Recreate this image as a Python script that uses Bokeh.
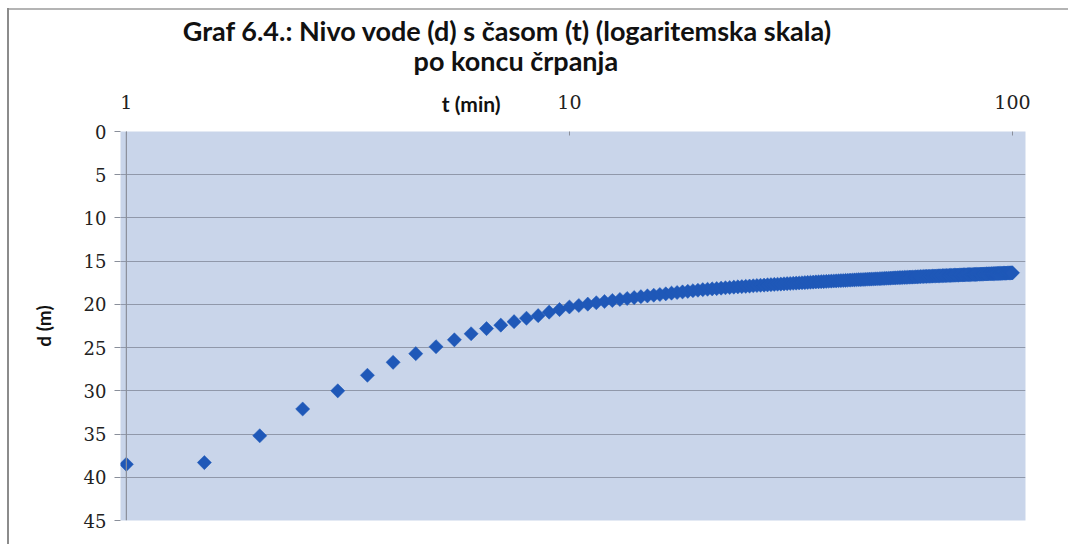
import math
from bokeh.plotting import figure
from bokeh.models import Range1d, FixedTicker, Label, Span
from bokeh.embed import file_html
from bokeh.resources import INLINE

# ---- data ----
t_min = [
    1, 1.5, 2, 2.5, 3, 3.5, 4, 4.5, 5, 5.5, 6, 6.5, 7, 7.5, 8, 8.5, 9, 9.5,
    10, 10.5, 11, 11.5, 12, 12.5, 13, 13.5, 14, 14.5, 15, 15.5, 16, 16.5, 17, 17.5,
    18, 18.5, 19, 19.5, 20, 20.5, 21, 21.5, 22, 22.5, 23, 23.5, 24, 24.5, 25, 25.5,
    26, 26.5, 27, 27.5, 28, 28.5, 29, 29.5, 30, 30.5, 31, 31.5, 32, 32.5, 33, 33.5,
    34, 34.5, 35, 35.5, 36, 36.5, 37, 37.5, 38, 38.5, 39, 39.5, 40, 40.5, 41, 41.5,
    42, 42.5, 43, 43.5, 44, 44.5, 45, 45.5, 46, 46.5, 47, 47.5, 48, 48.5, 49, 49.5,
    50, 50.5, 51, 51.5, 52, 52.5, 53, 53.5, 54, 54.5, 55, 55.5, 56, 56.5, 57, 57.5,
    58, 58.5, 59, 59.5, 60, 60.5, 61, 61.5, 62, 62.5, 63, 63.5, 64, 64.5, 65, 65.5,
    66, 66.5, 67, 67.5, 68, 68.5, 69, 69.5, 70, 70.5, 71, 71.5, 72, 72.5, 73, 73.5,
    74, 74.5, 75, 75.5, 76, 76.5, 77, 77.5, 78, 78.5, 79, 79.5, 80, 80.5, 81, 81.5,
    82, 82.5, 83, 83.5, 84, 84.5, 85, 85.5, 86, 86.5, 87, 87.5, 88, 88.5, 89, 89.5,
    90, 90.5, 91, 91.5, 92, 92.5, 93, 93.5, 94, 94.5, 95, 95.5, 96, 96.5, 97, 97.5,
    98, 98.5, 99, 99.5, 100,
]
d_m = [
    38.5, 38.3, 35.2, 32.1, 30.0, 28.2, 26.7, 25.7, 24.9, 24.1, 23.4, 22.8, 22.4, 22.0, 21.6, 21.3, 20.9, 20.6,
    20.30, 20.13, 19.97, 19.81, 19.67, 19.55, 19.43, 19.32, 19.21, 19.11, 19.02, 18.94, 18.86, 18.78, 18.70, 18.63,
    18.56, 18.49, 18.42, 18.36, 18.30, 18.25, 18.21, 18.17, 18.12, 18.08, 18.05, 18.01, 17.97, 17.94, 17.91, 17.88,
    17.85, 17.82, 17.79, 17.77, 17.74, 17.72, 17.69, 17.67, 17.65, 17.62, 17.60, 17.58, 17.56, 17.54, 17.52, 17.50,
    17.48, 17.46, 17.44, 17.42, 17.40, 17.39, 17.37, 17.36, 17.34, 17.32, 17.31, 17.29, 17.28, 17.26, 17.25, 17.24,
    17.22, 17.21, 17.19, 17.18, 17.17, 17.15, 17.14, 17.13, 17.12, 17.11, 17.09, 17.08, 17.07, 17.06, 17.05, 17.04,
    17.03, 17.02, 17.00, 16.99, 16.98, 16.97, 16.96, 16.95, 16.94, 16.93, 16.92, 16.91, 16.90, 16.89, 16.88, 16.87,
    16.86, 16.85, 16.84, 16.84, 16.83, 16.82, 16.81, 16.80, 16.79, 16.78, 16.77, 16.76, 16.76, 16.75, 16.74, 16.74,
    16.73, 16.72, 16.72, 16.71, 16.70, 16.70, 16.69, 16.68, 16.68, 16.67, 16.66, 16.66, 16.65, 16.64, 16.64, 16.63,
    16.62, 16.62, 16.61, 16.61, 16.60, 16.59, 16.59, 16.58, 16.58, 16.57, 16.56, 16.56, 16.55, 16.55, 16.54, 16.54,
    16.53, 16.53, 16.52, 16.51, 16.51, 16.50, 16.50, 16.49, 16.49, 16.48, 16.48, 16.47, 16.47, 16.46, 16.46, 16.45,
    16.45, 16.44, 16.44, 16.43, 16.43, 16.42, 16.42, 16.41, 16.41, 16.40, 16.40, 16.39, 16.39, 16.38, 16.38, 16.37,
    16.37, 16.36, 16.36, 16.35, 16.35,
]
x_ticks = [1, 10, 100]
x_tick_labels = {1: "1", 10: "10", 100: "100"}
y_ticks = [0, 5, 10, 15, 20, 25, 30, 35, 40, 45]
title_lines = ["Graf 6.4.: Nivo vode (d) s časom (t) (logaritemska skala)", "po koncu črpanja"]
x_label = "t (min)"
y_label = "d (m)"

TICK_FONT = "DejaVu Serif"
BOLD_FONT = "Lato"
AXIS_GRAY = "#8a8f9a"

p = figure(
    width=1068, height=544,
    x_axis_type="log", x_axis_location="above", y_axis_location="left",
    x_range=Range1d(0.97, 107), y_range=Range1d(45, 0),
    output_backend="svg", toolbar_location=None,
    min_border_left=120, min_border_right=43, min_border_top=130, min_border_bottom=24,
    background_fill_color="#c9d5ea", border_fill_color=None,
)
p.outline_line_color = None
# thin chart border on the left and top, like the scanned original
p.styles = {
    "background-color": "white",
    "box-shadow": "inset 7px 0 0 0 white, inset 0 8px 0 0 white, "
                  "inset 9px 0 0 0 #8c8c8c, inset 0 10px 0 0 #b4b4b4",
}

# top log axis
xa = p.xaxis[0]
xa.ticker = FixedTicker(ticks=x_ticks)
xa.major_label_overrides = x_tick_labels
xa.major_label_text_font = TICK_FONT
xa.major_label_text_font_size = "19px"
xa.major_label_text_color = "#222222"
xa.major_label_standoff = 23
xa.major_tick_in = 4
xa.major_tick_out = 0
xa.minor_tick_in = 0
xa.minor_tick_out = 0
xa.axis_line_color = None
xa.major_tick_line_color = AXIS_GRAY

# left axis
ya = p.yaxis[0]
ya.ticker = FixedTicker(ticks=y_ticks)
ya.major_label_text_font = TICK_FONT
ya.major_label_text_font_size = "18px"
ya.major_label_text_color = "#222222"
ya.major_label_standoff = 8
ya.major_tick_in = 0
ya.major_tick_out = 6
ya.minor_tick_in = 0
ya.minor_tick_out = 0
ya.axis_line_color = None
ya.major_tick_line_color = AXIS_GRAY
ya.axis_label = y_label
ya.axis_label_text_font = BOLD_FONT
ya.axis_label_text_font_style = "bold"
ya.axis_label_text_font_size = "19px"
ya.axis_label_text_color = "#111111"
ya.axis_label_standoff = 26

p.xgrid.visible = False
p.ygrid.ticker = FixedTicker(ticks=y_ticks)
p.ygrid.grid_line_color = "#9098aa"
p.ygrid.grid_line_width = 1.2

p.add_layout(Span(location=1, dimension="height", line_color=AXIS_GRAY, line_width=1.2))

# texts above the frame, kept in a side panel so they are not clipped
p.add_layout(Label(x=6.0, y=-3.2, text=x_label, text_font=BOLD_FONT, text_font_style="bold",
                   text_font_size="21px", text_color="#111111", text_align="center",
                   text_baseline="middle"), "above")
p.add_layout(Label(x=7.25, y=-11.7, text=title_lines[0], text_font=BOLD_FONT, text_font_style="bold",
                   text_font_size="27px", text_color="#111111", text_align="center",
                   text_baseline="middle"), "above")
p.add_layout(Label(x=7.57, y=-8.25, text=title_lines[1], text_font=BOLD_FONT, text_font_style="bold",
                   text_font_size="27px", text_color="#111111", text_align="center",
                   text_baseline="middle"), "above")

p.scatter(t_min, d_m, marker="square", size=10, angle=math.pi / 4,
          fill_color="#1f58b8", line_color="#1f58b8", line_width=0.5)

open("out.html", "w").write(file_html(p, INLINE))
